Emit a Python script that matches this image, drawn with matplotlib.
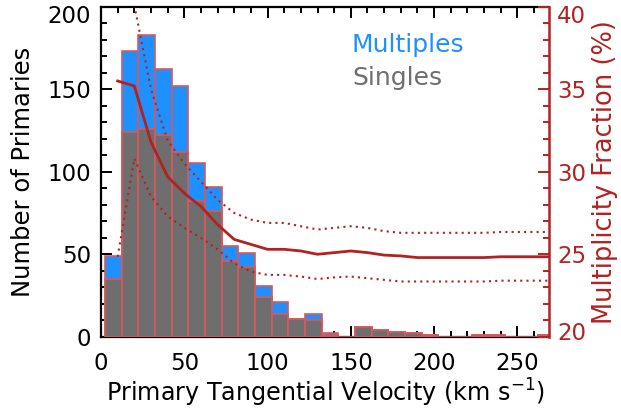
import matplotlib
matplotlib.use("Agg")
import matplotlib.pyplot as plt
import matplotlib.transforms as mtransforms
from matplotlib.ticker import MultipleLocator

# ---- data ----
bin_width = 10
bin_left = [2.5 + 10 * k for k in range(27)]
multiples_total = [49, 173, 183, 162, 152, 105, 91, 55, 51, 31, 21, 11, 14, 2, 0,
                   6, 4, 3, 2, 1, 0, 0, 1, 1, 0, 0, 1]
singles = [35, 124, 126, 122, 112, 82, 76, 46, 42, 24, 14, 11, 10, 1, 0,
           6, 4, 3, 2, 1, 0, 0, 1, 1, 0, 0, 1]

frac_v = [10, 20, 30, 40, 50, 60, 70, 80, 90, 100, 110, 120, 130, 140, 150, 160,
          170, 180, 190, 200, 210, 220, 230, 240, 250, 260, 270]
frac_mid = [35.5, 35.2, 31.8, 29.7, 28.7, 27.9, 26.8, 25.9, 25.6, 25.3, 25.3, 25.2,
            25.0, 25.1, 25.2, 25.1, 24.95, 24.9, 24.8, 24.8, 24.8, 24.8, 24.8,
            24.85, 24.85, 24.85, 24.85]
frac_hi = [47.0, 40.1, 35.0, 31.9, 30.5, 29.4, 28.3, 27.5, 27.1, 26.9, 26.9, 26.7,
           26.5, 26.6, 26.7, 26.6, 26.4, 26.3, 26.3, 26.3, 26.3, 26.3, 26.3,
           26.35, 26.35, 26.35, 26.35]
frac_lo = [24.85, 30.8, 28.5, 27.3, 26.6, 26.0, 25.3, 24.45, 23.95, 23.75, 23.75,
           23.65, 23.5, 23.6, 23.65, 23.55, 23.45, 23.35, 23.35, 23.35, 23.35,
           23.35, 23.35, 23.4, 23.4, 23.4, 23.4]

RED = "#B22222"
BLUE = "#1E90FF"
GRAY = "#6E6E6E"
EDGE = "#D9585C"
TFS = 16.5
LFS = 17.5

plt.rcParams['font.family'] = ['DejaVu Sans']
fig = plt.figure(figsize=(6.21, 4.11), dpi=100)
ax = fig.add_axes([101 / 621, 1 - 336.8 / 411, 448 / 621, 330.1 / 411])

ax.bar(bin_left, multiples_total, width=bin_width, align='edge', color=BLUE,
       edgecolor=EDGE, linewidth=1.2, zorder=2)
ax.bar(bin_left, singles, width=bin_width, align='edge', color=GRAY,
       edgecolor=EDGE, linewidth=1.2, zorder=3)

ax.set_xlim(0, 269)
ax.set_ylim(0, 200)
ax.xaxis.set_major_locator(MultipleLocator(50))
ax.xaxis.set_minor_locator(MultipleLocator(10))
ax.yaxis.set_major_locator(MultipleLocator(50))
ax.yaxis.set_minor_locator(MultipleLocator(10))
ax.tick_params(axis='both', which='both', direction='in', top=True, right=False,
               labelsize=TFS, width=1.4)
ax.tick_params(which='major', length=8)
ax.tick_params(which='minor', length=4)
ax.tick_params(axis='x', pad=11)
ax.tick_params(axis='y', pad=7)
for s in ax.spines.values():
    s.set_linewidth(1.6)
ax.spines['right'].set_visible(False)
ax.set_xlabel("Primary Tangential Velocity (km s$^{-1}$)", fontsize=17.2, labelpad=1)
ax.set_ylabel("Number of Primaries", fontsize=LFS, labelpad=9)

ax2 = ax.twinx()
ax2.set_ylim(20, 40)
ax2.plot(frac_v, frac_mid, color=RED, lw=2.0, zorder=5)
ax2.plot(frac_v, frac_hi, color=RED, lw=1.5, ls=(0, (1, 2)), zorder=5)
ax2.plot(frac_v, frac_lo, color=RED, lw=1.5, ls=(0, (1, 2)), zorder=5)
ax2.yaxis.set_major_locator(MultipleLocator(5))
ax2.yaxis.set_minor_locator(MultipleLocator(1))
ax2.tick_params(axis='y', which='both', direction='in', colors=RED, labelsize=TFS,
                width=1.4, pad=6)
ax2.tick_params(which='major', length=8)
ax2.tick_params(which='minor', length=4)
for k, s in ax2.spines.items():
    s.set_visible(k == 'right')
ax2.spines['right'].set_color(RED)
ax2.spines['right'].set_linewidth(1.8)
ax2.set_ylabel("Multiplicity Fraction (%)", color=RED, fontsize=18.5, labelpad=4)

ax.text(0.56, 0.885, "Multiples", color=BLUE, fontsize=18, transform=ax.transAxes,
        va='center', ha='left')
ax.text(0.56, 0.785, "Singles", color=GRAY, fontsize=18, transform=ax.transAxes,
        va='center', ha='left')

fig.canvas.draw()
down = mtransforms.ScaledTranslation(0, -7 / 100, fig.dpi_scale_trans)
up = mtransforms.ScaledTranslation(0, 6 / 100, fig.dpi_scale_trans)
for lab in ax.get_yticklabels():
    if lab.get_text() == '200':
        lab.set_transform(lab.get_transform() + down)
for lab in ax2.get_yticklabels():
    if lab.get_text() == '40':
        lab.set_transform(lab.get_transform() + down)
    elif lab.get_text() == '20':
        lab.set_transform(lab.get_transform() + up)

fig.savefig("out.png", dpi=100)
